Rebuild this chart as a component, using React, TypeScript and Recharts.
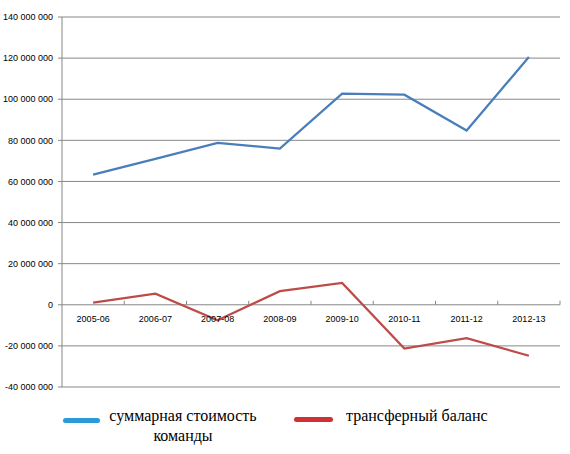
import { LineChart, Line, XAxis, YAxis, CartesianGrid } from "recharts";

const seasons = [
  "2005-06",
  "2006-07",
  "2007-08",
  "2008-09",
  "2009-10",
  "2010-11",
  "2011-12",
  "2012-13",
];

// суммарная стоимость команды
const teamValue = [
  63300000, 71000000, 78800000, 76000000, 102700000, 102200000, 84800000,
  120500000,
];

// трансферный баланс
const transferBalance = [
  1000000, 5400000, -7500000, 6600000, 10600000, -21300000, -16200000,
  -24800000,
];

const yTicks = [
  -40000000, -20000000, 0, 20000000, 40000000, 60000000, 80000000, 100000000,
  120000000, 140000000,
];

const seriesNames = ["суммарная стоимость команды", "трансферный баланс"];

const data = seasons.map((s, i) => ({
  name: s,
  value: teamValue[i],
  balance: transferBalance[i],
}));

const W = 570;
const H = 454;
const M = { top: 17, right: 10, bottom: 66, left: 0 };
const X_H = 1;
const Y_W = 62;
const PLOT_W = W - M.left - M.right - Y_W;
const PLOT_H = H - M.top - M.bottom - X_H;
const Y_MIN = yTicks[0];
const Y_MAX = yTicks[yTicks.length - 1];
const ZERO_Y = M.top + (PLOT_H * Y_MAX) / (Y_MAX - Y_MIN);
const BAND = PLOT_W / seasons.length;

const axisFont = "'Liberation Sans', Arial, sans-serif";
const gridColor = "#878787";

// thousands separated by non-breaking spaces, like the original
const fmt = (v: number) => {
  const s = String(Math.abs(v)).replace(/\B(?=(\d{3})+(?!\d))/g, "\u00a0");
  return v < 0 ? "-" + s : s;
};

const SeasonTick = (props: any) => {
  const { x, payload } = props;
  return (
    <g>
      <line
        x1={x + BAND / 2}
        x2={x + BAND / 2}
        y1={ZERO_Y - 4}
        y2={ZERO_Y}
        stroke={gridColor}
      />
      <text
        x={x}
        y={ZERO_Y + 17}
        textAnchor="middle"
        fontSize={9}
        fontFamily={axisFont}
        fill="#000"
      >
        {payload.value}
      </text>
    </g>
  );
};

const legendText = {
  position: "absolute" as const,
  fontFamily: "'Liberation Serif', 'Times New Roman', serif",
  fontSize: 16,
  color: "#000",
  lineHeight: "20px",
  whiteSpace: "nowrap" as const,
};

const App = () => {
  return (
    <div
      style={{
        position: "absolute",
        left: 0,
        top: 0,
        width: W,
        height: H,
        background: "#fff",
      }}
    >
      <LineChart width={W} height={H} data={data} margin={M}>
        <CartesianGrid vertical={false} stroke={gridColor} />
        <XAxis
          dataKey="name"
          height={X_H}
          axisLine={false}
          tickLine={false}
          padding={{ left: BAND / 2, right: BAND / 2 }}
          tick={(p: any) => <SeasonTick {...p} />}
          interval={0}
        />
        <YAxis
          width={Y_W}
          domain={[Y_MIN, Y_MAX]}
          ticks={yTicks}
          tickFormatter={fmt}
          axisLine={{ stroke: gridColor }}
          tickLine={{ stroke: gridColor }}
          tickSize={4}
          tickMargin={5}
          tick={{ fontSize: 9, fontFamily: axisFont, fill: "#000" }}
        />
        <Line
          type="linear"
          dataKey="value"
          name={seriesNames[0]}
          stroke="#4a7ebb"
          strokeWidth={2.25}
          dot={false}
          isAnimationActive={false}
        />
        <Line
          type="linear"
          dataKey="balance"
          name={seriesNames[1]}
          stroke="#be4b48"
          strokeWidth={2.25}
          dot={false}
          isAnimationActive={false}
        />
      </LineChart>
      {/* legend */}
      <div
        style={{
          position: "absolute",
          left: 63,
          top: 418,
          width: 37,
          height: 5,
          borderRadius: 3,
          background: "#2a9bd8",
        }}
      />
      <div style={{ ...legendText, left: 108, top: 406, width: 150, textAlign: "center" }}>
        суммарная стоимость
        <br />
        команды
      </div>
      <div
        style={{
          position: "absolute",
          left: 294,
          top: 417,
          width: 39,
          height: 5,
          borderRadius: 3,
          background: "#cf3134",
        }}
      />
      <div style={{ ...legendText, left: 346, top: 406 }}>трансферный баланс</div>
    </div>
  );
};

export default App;
